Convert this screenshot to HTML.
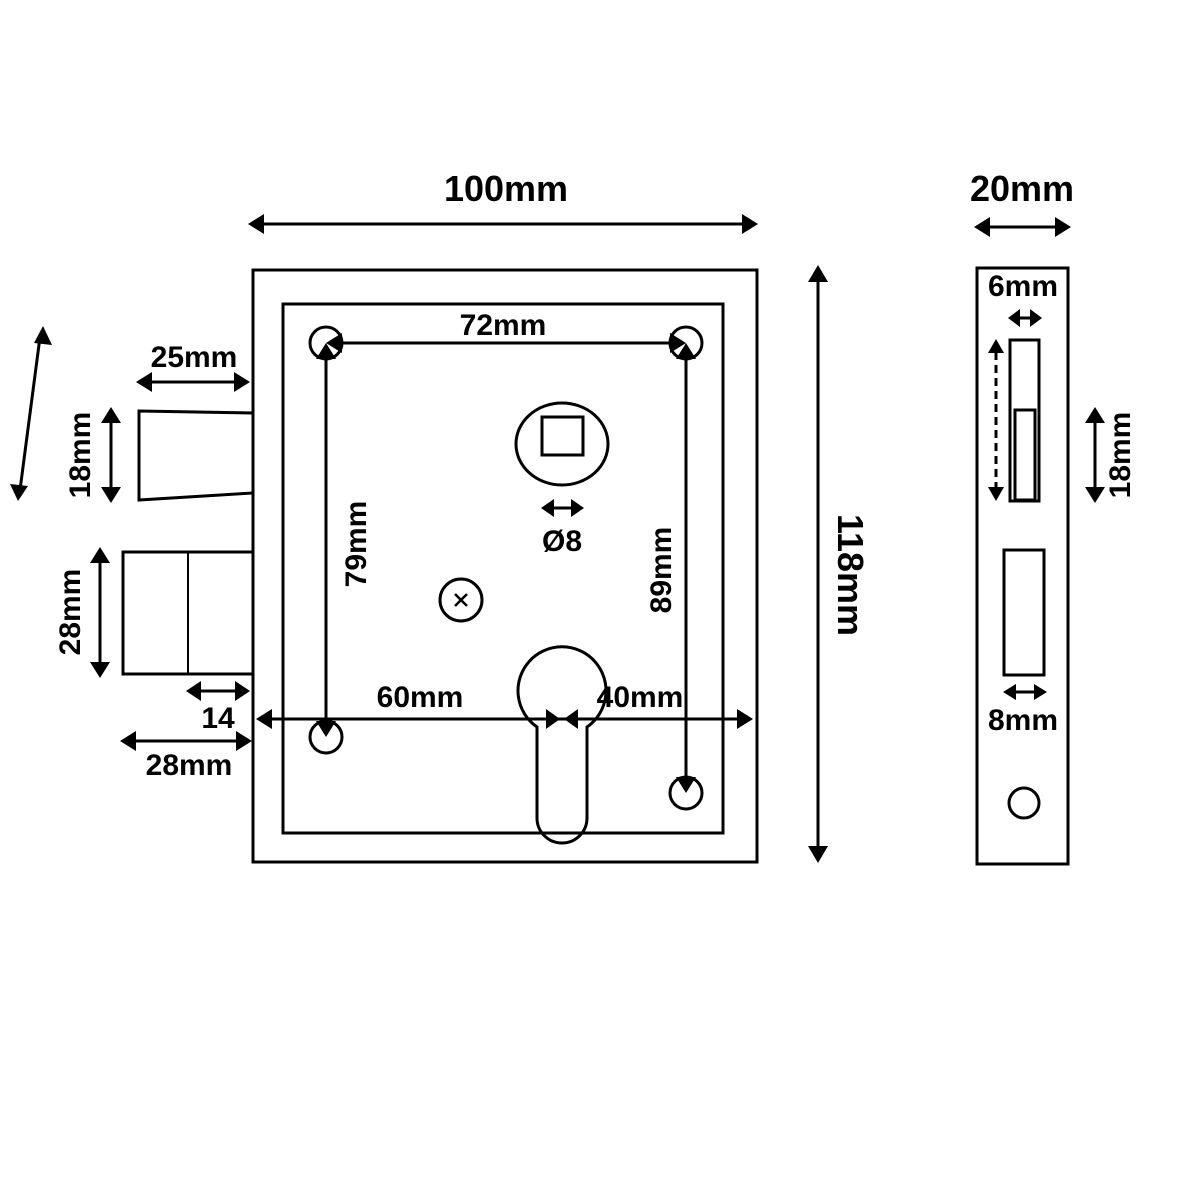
<!DOCTYPE html>
<html><head><meta charset="utf-8"><style>body{margin:0;background:#fff}svg{display:block}text{font-family:"Liberation Sans",Arial,sans-serif;font-weight:bold;fill:#000}</style></head>
<body>
<svg width="1200" height="1200" viewBox="0 0 1200 1200" xmlns="http://www.w3.org/2000/svg">
<g fill="none" stroke="#000" stroke-width="3">
<rect x="253" y="270" width="504" height="592"/>
<rect x="283" y="304" width="440" height="529"/>
<circle cx="326" cy="343" r="16"/><circle cx="686" cy="343" r="16"/>
<circle cx="326" cy="737" r="16"/><circle cx="686" cy="793" r="16"/>
<ellipse cx="562" cy="444" rx="46" ry="41"/>
<rect x="542" y="417" width="41" height="38"/>
<circle cx="461" cy="600" r="21"/>
<path d="M455 594 L467 606 M467 594 L455 606" stroke-width="2.5"/>
<path d="M537 727 A44 44 0 1 1 587 727 L587 818 A25 25 0 0 1 537 818 Z"/>
<path d="M139 411 L253 413 L253 493 L139 500 Z"/>
<rect x="123" y="552" width="130" height="122"/><line x1="188" y1="552" x2="188" y2="674" stroke-width="2"/>
<rect x="977" y="268" width="91" height="596"/>
<rect x="1010" y="340" width="29" height="161"/>
<rect x="1015" y="410" width="20" height="90"/>
<rect x="1004" y="550" width="40" height="125"/>
<circle cx="1024" cy="803" r="15"/>
<line x1="996" y1="352" x2="996" y2="488" stroke-dasharray="8 5"/>
</g>
<g stroke="#000" stroke-width="3">
<line x1="258" y1="224" x2="748" y2="224"/>
<line x1="818" y1="276" x2="818" y2="852"/>
<line x1="984" y1="227" x2="1062" y2="227"/>
<line x1="1016" y1="318" x2="1034" y2="318"/>
<line x1="1095" y1="418" x2="1095" y2="492"/>
<line x1="1012" y1="692" x2="1038" y2="692"/>
<line x1="40" y1="337" x2="20" y2="490"/>
<line x1="147" y1="382" x2="240" y2="382"/>
<line x1="111" y1="418" x2="111" y2="492"/>
<line x1="100" y1="558" x2="100" y2="667"/>
<line x1="196" y1="691" x2="240" y2="691"/>
<line x1="130" y1="741" x2="242" y2="741"/>
<line x1="336" y1="343" x2="676" y2="343"/>
<line x1="326" y1="353" x2="326" y2="727"/>
<line x1="686" y1="353" x2="686" y2="783"/>
<line x1="266" y1="719" x2="744" y2="719"/>
<line x1="550" y1="508" x2="575" y2="508"/>
</g>
<g fill="#000">
<path d="M248 224 L264 214 L264 234Z"/><path d="M758 224 L742 214 L742 234Z"/>
<path d="M818 265 L808 282 L828 282Z"/><path d="M818 863 L808 846 L828 846Z"/>
<path d="M974 227 L990 217 L990 237Z"/><path d="M1071 227 L1055 217 L1055 237Z"/>
<path d="M1008 318 L1020 309 L1020 327Z"/><path d="M1042 318 L1030 309 L1030 327Z"/>
<path d="M996 339 L988 353 L1004 353Z"/><path d="M996 501 L988 487 L1004 487Z"/>
<path d="M1095 407 L1085 423 L1105 423Z"/><path d="M1095 503 L1085 487 L1105 487Z"/>
<path d="M1003 692 L1016 684 L1016 700Z"/><path d="M1047 692 L1034 684 L1034 700Z"/>
<path d="M43 326 L34 343 L52 345Z"/><path d="M18 501 L10 484 L28 486Z"/>
<path d="M136 382 L152 372 L152 392Z"/><path d="M250 382 L234 372 L234 392Z"/>
<path d="M111 407 L101 423 L121 423Z"/><path d="M111 503 L101 487 L121 487Z"/>
<path d="M100 547 L90 563 L110 563Z"/><path d="M100 678 L90 662 L110 662Z"/>
<path d="M186 691 L201 681 L201 701Z"/><path d="M250 691 L235 681 L235 701Z"/>
<path d="M120 741 L136 731 L136 751Z"/><path d="M252 741 L236 731 L236 751Z"/>
<path d="M326 343 L342 333 L342 353Z"/><path d="M686 343 L670 333 L670 353Z"/>
<path d="M326 343 L316 359 L336 359Z"/><path d="M686 343 L676 359 L696 359Z"/>
<path d="M326 737 L316 721 L336 721Z"/><path d="M686 793 L676 777 L696 777Z"/>
<path d="M256 719 L272 709 L272 729Z"/><path d="M753 719 L737 709 L737 729Z"/>
<path d="M560 719 L546 709 L546 729Z"/><path d="M564 719 L578 709 L578 729Z"/>
<path d="M541 508 L554 499 L554 517Z"/><path d="M584 508 L571 499 L571 517Z"/>
</g>
<g font-size="36" text-anchor="middle">
<text x="506" y="201">100mm</text>
<text x="1022" y="201">20mm</text>
<text transform="translate(838,575) rotate(90)">118mm</text>
</g>
<g font-size="30" text-anchor="middle">
<text x="503" y="335">72mm</text>
<text x="194" y="367">25mm</text>
<text x="218" y="728">14</text>
<text x="189" y="775">28mm</text>
<text x="420" y="707">60mm</text>
<text x="640" y="707">40mm</text>
<text x="562" y="551">Ø8</text>
<text x="1023" y="296">6mm</text>
<text x="1023" y="730">8mm</text>
<text transform="translate(366,544) rotate(-90)">79mm</text>
<text transform="translate(671,570) rotate(-90)">89mm</text>
<text transform="translate(90,455) rotate(-90)">18mm</text>
<text transform="translate(80,612) rotate(-90)">28mm</text>
<text transform="translate(1130,455) rotate(-90)">18mm</text>
</g>
</svg>
</body></html>
